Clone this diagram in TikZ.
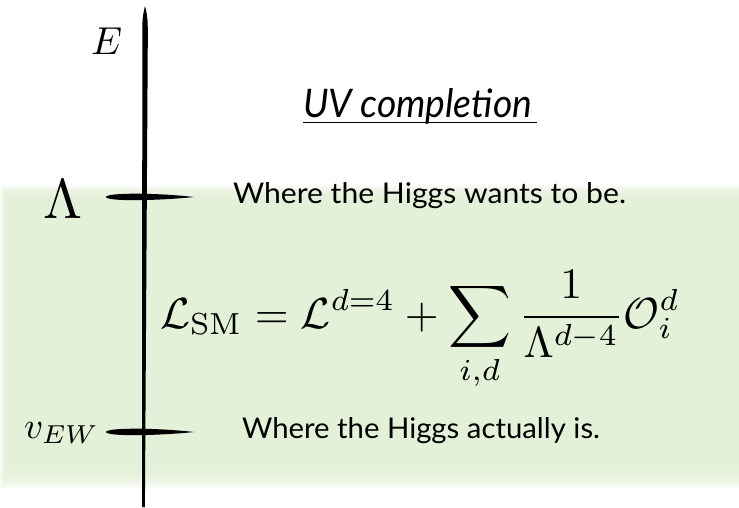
\documentclass[tikz,border=0pt]{standalone}
\usepackage{fontspec}
\usepackage{amsmath}
\usepackage{graphicx}
\newfontfamily\labelfont{Lato}
\definecolor{bandgreen}{RGB}{228,241,217}
\begin{document}
\begin{tikzpicture}[x=1pt,y=-1pt,
  lbl/.style={inner sep=0pt,outer sep=0pt,anchor=base west},
  brush/.style={fill=black}]
\useasboundingbox (0,0) rectangle (739,507);
\fill[white] (0,0) rectangle (739,507);
% soft green band
\foreach \i in {0,...,11}{
  \fill[bandgreen,fill opacity=0.22] (\i*1.0,185+\i*1.6) rectangle (739,488-\i*2.0);
}
\fill[bandgreen] (12,204) rectangle (739,464);
% axis (brush stroke)
\coordinate (top) at (145,6);
\coordinate (bot) at (143.5,507);
\fill[brush] (top) .. controls (147.8,18) .. (147.8,40) -- (144.9,507) -- (142.1,507) -- (142.3,40) .. controls (142.3,18) .. (top);
% ticks
\coordinate (lamL) at (106,197);
\coordinate (lamR) at (194,197);
\fill[brush] (lamL) .. controls (107,192.2) and (160,193.0) .. (lamR) .. controls (160,200.6) and (107,201.8) .. (lamL);
\coordinate (ewL) at (106,432);
\coordinate (ewR) at (194,432);
\fill[brush] (ewL) .. controls (107,427.2) and (160,428.0) .. (ewR) .. controls (160,435.6) and (107,436.8) .. (ewL);
% axis labels
\node[lbl] (E) at (91,54) {\resizebox{31pt}{!}{$E$}};
\node[lbl] (Lam) at (43,218) {\resizebox{39pt}{!}{$\Lambda$}};
\node[lbl] (vew) at (24,438) {\resizebox{75pt}{!}{$v_{EW}$}};
% texts
\node[lbl] (uv) at (303,117) {\resizebox{229pt}{29pt}{\labelfont\itshape UV completion}};
\draw[line width=1.8pt] (303,122.5) -- (537,122.5);
\node[lbl] (wants) at (233,203) {\resizebox{393pt}{21pt}{\labelfont Where the Higgs wants to be.}};
\node[lbl] (actually) at (242,438) {\resizebox{358pt}{21pt}{\labelfont Where the Higgs actually is.}};
% equation
\node[lbl] (eq) at (160,328) {\resizebox{520pt}{!}{$\displaystyle \mathcal{L}_{\mathrm{SM}} = \mathcal{L}^{d=4} + \sum_{i,d}\frac{1}{\Lambda^{d-4}}\mathcal{O}_i^d$}};
\end{tikzpicture}
\end{document}
